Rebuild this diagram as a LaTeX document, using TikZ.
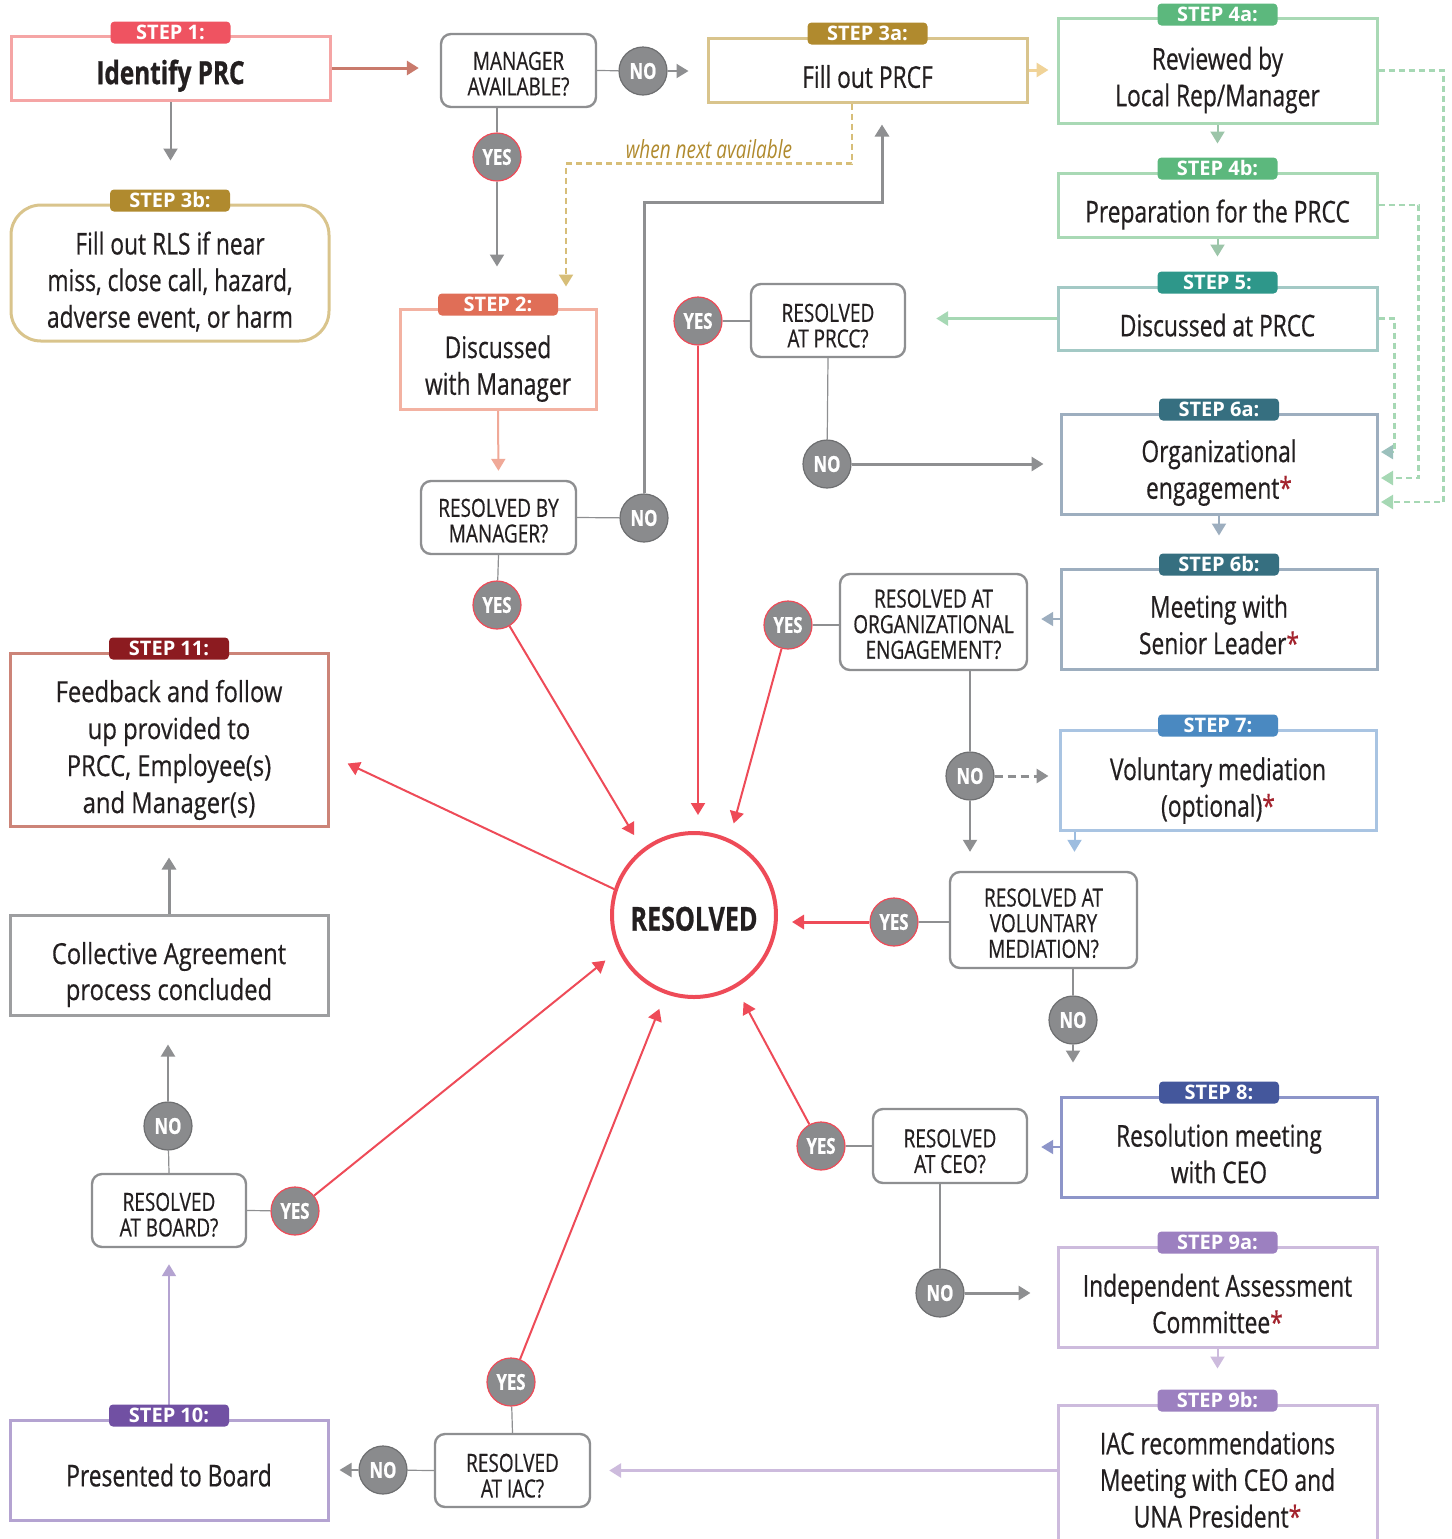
\documentclass[tikz,border=0pt]{standalone}
\usepackage{fontspec}
\setmainfont{Open Sans}[FakeStretch=0.76, UprightFeatures={FakeBold=0.5}, BoldFeatures={FakeBold=0.8}]
\newfontfamily\widefont{Open Sans}[FakeStretch=0.82, UprightFeatures={FakeBold=0.4}]
\newfontfamily\plainfont{Open Sans}
\usetikzlibrary{arrows.meta,calc,backgrounds}
\definecolor{rc}{HTML}{EE4B58}
\definecolor{gc}{HTML}{8E8F91}
\definecolor{cg}{HTML}{8A8B8D}
\definecolor{cb}{HTML}{6E6F71}
\definecolor{tx}{HTML}{231F20}
\definecolor{st}{HTML}{A3232D}
\definecolor{b1}{HTML}{F5A5A5}\definecolor{p1}{HTML}{EF5361}
\definecolor{b3}{HTML}{D9C48C}\definecolor{p3}{HTML}{B08A2E}
\definecolor{b4}{HTML}{A9D9B5}\definecolor{p4}{HTML}{5CB87D}
\definecolor{b5}{HTML}{A3C9C5}\definecolor{p5}{HTML}{2E978A}
\definecolor{b6}{HTML}{9DAEBF}\definecolor{p6}{HTML}{366F80}
\definecolor{b7}{HTML}{A9C4E2}\definecolor{p7}{HTML}{4A89C1}
\definecolor{b8}{HTML}{8D95C9}\definecolor{p8}{HTML}{44579C}
\definecolor{b9}{HTML}{CDBBDD}\definecolor{p9}{HTML}{9C80C0}
\definecolor{b10}{HTML}{B4A3D1}\definecolor{p10}{HTML}{7150A3}
\definecolor{b11}{HTML}{CC8478}\definecolor{p11}{HTML}{8C1B20}
\definecolor{b2}{HTML}{F3B2A2}\definecolor{p2}{HTML}{E06E57}
\definecolor{bca}{HTML}{9D9EA0}
\definecolor{ac1}{HTML}{C97A6C}
\definecolor{yel}{HTML}{F0D398}
\definecolor{grn}{HTML}{9CC5A9}
\definecolor{lgrn}{HTML}{A6D8B4}
\definecolor{tgr}{HTML}{9BC0BC}
\definecolor{tan}{HTML}{D7BE78}
\definecolor{wna}{HTML}{B08A2E}
\definecolor{lblue}{HTML}{9DBDE0}
\definecolor{sal}{HTML}{F0A998}
\newcommand\bxfont{\fontsize{15}{18.3}\selectfont}
\newcommand\qfont{\fontsize{12.5}{12.8}\selectfont}
\newcommand\redast{\textcolor{st}{*}}
\newcommand\tu[1]{\rule{0pt}{#1}}
\begin{document}
\begin{tikzpicture}[x=0.5pt,y=-0.5pt, every node/.style={text=tx},
  tup/.style={execute at begin node={\rule{0pt}{#1}}}, tup/.default=19pt,
  stepbox/.style={draw=#1, line width=1.5pt, fill=white, align=center, inner sep=2pt, font=\bxfont, minimum width=158pt, minimum height=50pt},
  pill/.style={fill=#1, text=white, rounded corners=2pt, minimum width=60pt, minimum height=11pt, inner sep=0pt, font=\plainfont\bfseries\fontsize{10}{10}\selectfont},
  qbox/.style={draw=gc, line width=1.2pt, rounded corners=5pt, fill=white, align=center, font=\qfont, minimum width=77.5pt, minimum height=36.5pt, inner sep=1pt},
  yn/.style={circle, fill=cg, draw=#1, line width=0.6pt, minimum size=24pt, inner sep=0pt, text=white, font=\bfseries\fontsize{11}{11}\selectfont},
  yesc/.style={yn=rc}, noc/.style={yn=cb},
  arr/.style={-{Triangle[width=7pt,length=6pt]}, line width=1pt},
  thk/.style={line width=1.5pt},
  thinl/.style={draw=gc, line width=0.6pt},
  garr/.style={arr, draw=gc},
  redarr/.style={arr, draw=rc, shorten >=8pt},
  gdash/.style={draw=lgrn, line width=1.2pt, dash pattern=on 3pt off 2pt, -{Triangle[width=7pt,length=6pt]}}
]
\useasboundingbox (0,0) rectangle (1452,1539);

% ---------- step boxes ----------
\node[stepbox=b1, minimum width=159.5pt, minimum height=32pt, font=\bfseries\fontsize{16}{18}\selectfont, tup=20pt] (s1) at (170.5,68) {Identify PRC};
\node[pill=p1] (pl1) at ([yshift=1pt]s1.north) {STEP 1:};

\node[stepbox=b3, rounded corners=15pt, minimum width=159pt, minimum height=68pt] (s3b) at (170,273) {\tu{20pt}Fill out RLS if near\\miss, close call, hazard,\\adverse event, or harm};
\node[pill=p3] (pl3b) at ([yshift=1.5pt]s3b.north) {STEP 3b:};

\node[stepbox=b3, minimum width=159.5pt, minimum height=32pt, tup=18pt] (s3a) at (867.5,70) {Fill out PRCF};
\node[pill=p3] (pl3a) at ([yshift=1.5pt]s3a.north) {STEP 3a:};

\node[stepbox=b4, minimum width=159.5pt, minimum height=52.5pt] (s4a) at (1217.5,70.5) {\tu{21pt}Reviewed by\\Local Rep/Manager};
\node[pill=p4] (pl4a) at ([yshift=1pt]s4a.north) {STEP 4a:};

\node[stepbox=b4, minimum width=159.5pt, minimum height=32pt, tup=21pt] (s4b) at (1217.5,205) {Preparation for the PRCC};
\node[pill=p4] (pl4b) at ([yshift=1.5pt]s4b.north) {STEP 4b:};

\node[stepbox=b5, minimum width=159.5pt, minimum height=31.5pt, tup=18pt] (s5) at (1217.5,318.5) {Discussed at PRCC};
\node[pill=p5] (pl5) at ([yshift=1.5pt]s5.north) {STEP 5:};

\node[stepbox=b6] (s6a) at (1219,464) {\tu{20pt}Organizational\\engagement\redast};
\node[pill=p6] (pl6a) at ([yshift=1.5pt]s6a.north) {STEP 6a:};

\node[stepbox=b6] (s6b) at (1219,619) {\tu{17pt}Meeting with\\Senior Leader\redast};
\node[pill=p6] (pl6b) at ([yshift=1.5pt]s6b.north) {STEP 6b:};

\node[stepbox=b7] (s7) at (1218,780) {\tu{22pt}Voluntary mediation\\(optional)\redast};
\node[pill=p7] (pl7) at ([yshift=1.5pt]s7.north) {STEP 7:};

\node[stepbox=b8] (s8) at (1219,1147) {\tu{18pt}Resolution meeting\\with CEO};
\node[pill=p8] (pl8) at ([yshift=1.5pt]s8.north) {STEP 8:};

\node[stepbox=b9, minimum width=159.5pt] (s9a) at (1217.5,1297) {\tu{18pt}Independent Assessment\\Committee\redast};
\node[pill=p9] (pl9a) at ([yshift=1.5pt]s9a.north) {STEP 9a:};

\node[stepbox=b9, minimum width=159.5pt, minimum height=70pt] (s9b) at (1217.5,1475) {\tu{16pt}IAC recommendations\\Meeting with CEO and\\UNA President\redast};
\node[pill=p9] (pl9b) at ([yshift=1.5pt]s9b.north) {STEP 9b:};

\node[stepbox=b2, minimum width=98pt] (s2) at (498,359) {\tu{21pt}Discussed\\with Manager};
\node[pill=p2] (pl2) at ([yshift=1.5pt]s2.north) {STEP 2:};

\node[stepbox=b11, minimum width=159pt, minimum height=86.5pt, font=\widefont\fontsize{14.5}{18.5}\selectfont] (s11) at (169,739.5) {\tu{21.5pt}Feedback and follow\\up provided to\\PRCC, Employee(s)\\and Manager(s)};
\node[pill=p11] (pl11) at ([yshift=1.5pt]s11.north) {STEP 11:};

\node[stepbox=bca, minimum width=159pt, font=\widefont\fontsize{14.5}{18}\selectfont] (sCA) at (169,965) {\tu{20.5pt}Collective Agreement\\process concluded};

\node[stepbox=b10, minimum width=159pt, tup=16.5pt] (s10) at (169,1470) {Presented to Board};
\node[pill=p10] (pl10) at ([yshift=1.5pt]s10.north) {STEP 10:};

% ---------- questions ----------
\node[qbox] (qMA) at (518.5,70.5) {\tu{12.3pt}MANAGER\\AVAILABLE?};
\node[qbox, minimum width=77pt] (qPRCC) at (828,320.5) {\tu{14.3pt}RESOLVED\\AT PRCC?};
\node[qbox] (qRM) at (498.5,517.5) {\tu{12.3pt}RESOLVED BY\\MANAGER?};
\node[qbox, minimum width=93.5pt, minimum height=48pt] (qOE) at (933.5,622) {\tu{11.3pt}RESOLVED AT\\ORGANIZATIONAL\\ENGAGEMENT?};
\node[qbox, minimum width=93.5pt, minimum height=48pt] (qVM) at (1043.5,920) {\tu{12.3pt}RESOLVED AT\\VOLUNTARY\\MEDIATION?};
\node[qbox, minimum width=77pt, minimum height=37pt] (qCEO) at (950,1146) {\tu{14.3pt}RESOLVED\\AT CEO?};
\node[qbox] (qIAC) at (512.5,1470.5) {\tu{14.3pt}RESOLVED\\AT IAC?};
\node[qbox, minimum width=77pt] (qB) at (169,1210.5) {\tu{13.3pt}RESOLVED\\AT BOARD?};

% ---------- resolved ----------
\node[circle, draw=rc, line width=2pt, fill=white, minimum size=82pt, inner sep=0pt, font=\bfseries\fontsize{16.5}{18}\selectfont, tup=15.8pt] (res) at (694,915) {RESOLVED};

% ---------- yes / no ----------
\node[noc] (no1) at (643,71) {NO};
\node[yesc] (yes1) at (497,157) {YES};
\node[yesc] (yes2) at (698,321) {YES};
\node[noc] (no2) at (827,464) {NO};
\node[noc] (no3) at (644,518) {NO};
\node[yesc] (yes3) at (497,605) {YES};
\node[yesc] (yes4) at (788,625) {YES};
\node[noc] (no4) at (970,776) {NO};
\node[yesc] (yes5) at (894,922) {YES};
\node[noc] (no5) at (1073,1020) {NO};
\node[yesc] (yes6) at (821,1146) {YES};
\node[noc] (no6) at (940,1293) {NO};
\node[yesc] (yes7) at (511,1382) {YES};
\node[noc] (no7) at (383,1470) {NO};
\node[yesc] (yes8) at (295,1211) {YES};
\node[noc] (no8) at (168,1126) {NO};

\node[font=\itshape\fontsize{12.5}{13}\selectfont, text=wna, inner sep=0pt] (wn) at (709,149) {when next available};

\coordinate (e1) at (1381,502);
\coordinate (e2) at (1381,478);
\coordinate (e3) at (1381,452);
\coordinate (c1) at (882,202);

\begin{scope}[on background layer]
\draw[arr, thk, draw=ac1, shorten >=10.5pt] (s1.east) -- (s1.east -| qMA.west);
\draw[garr, shorten >=21.5pt] (s1.south) -- (s1.south |- s3b.north);
\draw[thinl] (qMA.east) -- (no1);
\draw[garr, shorten >=9pt] (no1) -- (no1 -| s3a.west);
\draw[arr, thk, draw=yel, shorten >=4pt] (s3a.east) -- (s3a.east -| s4a.west);
\draw[arr, draw=grn, shorten >=14pt] (s4a.south) -- (s4b.north);
\draw[arr, draw=grn, shorten >=14.5pt] (s4b.south) -- (s5.north);
\draw[arr, thk, draw=lgrn, shorten >=15pt] (s5.west) -- (s5.west -| qPRCC.east);
\draw[thinl] (yes2 -| qPRCC.west) -- (yes2);
\draw[redarr] (yes2) -- (yes2 |- res.north);
\draw[thinl] (qPRCC.south) -- (no2);
\draw[garr, thk, shorten >=8pt] (no2) -- (no2 -| s6a.west);
\draw[gdash] (s4a.east) -- ++(65,0) |- (e1);
\draw[gdash] (s4b.east) -- ++(40,0) |- (e2);
\draw[gdash, -{Triangle[width=7pt,length=6pt,color=tgr]}] (s5.east) -- ++(16,0) |- (e3);
\draw[arr, draw=b6, shorten >=16pt] (s6a.south) -- (s6b.north);
\draw[arr, draw=b6, shorten >=6.5pt] (s6b.west) -- (s6b.west -| qOE.east);
\draw[thinl] (yes4 -| qOE.west) -- (yes4);
\draw[redarr] (yes4) -- (res.65);
\draw[thinl] (no4 |- qOE.south) -- (no4);
\draw[garr, thk, dash pattern=on 4pt off 2.5pt, shorten >=5pt] (no4) -- (no4 -| s7.west);
\draw[garr, shorten >=9.5pt] (no4) -- (no4 |- qVM.north);
\draw[arr, draw=lblue, shorten >=9.5pt] ([xshift=8pt]s7.south west) -- ([xshift=8pt]s7.south west |- qVM.north);
\draw[thinl] (yes5 -| qVM.west) -- (yes5);
\draw[redarr, thk, shorten >=7pt] (yes5) -- (yes5 -| res.east);
\draw[thinl] (no5 |- qVM.south) -- (no5);
\draw[garr, shorten >=16.5pt] (no5) -- (no5 |- s8.north);
\draw[arr, draw=b8, shorten >=6.5pt] (s8.west) -- (s8.west -| qCEO.east);
\draw[thinl] (qCEO.west) -- (yes6);
\draw[redarr] (yes6) -- (res.-60);
\draw[thinl] (no6 |- qCEO.south) -- (no6);
\draw[garr, thk, shorten >=13pt] (no6) -- (no6 -| s9a.west);
\draw[arr, draw=b9, shorten >=17.5pt] (s9a.south) -- (s9b.north);
\draw[arr, thk, draw=b9, shorten >=9pt] (qIAC.east -| s9b.west) -- (qIAC.east);
\draw[thinl] (qIAC.north) -- (yes7);
\draw[redarr] (yes7) -- (res.-110);
\draw[thinl] (qIAC.west) -- (no7);
\draw[garr, shorten >=5pt] (no7) -- (no7 -| s10.east);
\draw[arr, draw=b10, shorten >=8pt] (s10.north) -- (qB.south);
\draw[thinl] (qB.east) -- (yes8);
\draw[redarr] (yes8) -- (res.-155);
\draw[thinl] (qB.north) -- (no8);
\draw[garr, shorten >=14pt] (no8) -- (no8 |- sCA.south);
\draw[garr, thk, shorten >=15pt] (sCA.north) -- (s11.south);
\draw[thinl] (yes1 |- qMA.south) -- (yes1);
\draw[garr, shorten >=20.5pt] (yes1) -- (yes1 |- s2.north);
\draw[draw=tan, line width=1.2pt, dash pattern=on 3pt off 2pt, -{Triangle[width=7pt,length=6pt]}, shorten >=10.5pt] ([xshift=-7.75pt]s3a.south) -- ++(0,60) -| ([xshift=34pt]s2.north);
\draw[arr, draw=sal, shorten >=4.5pt] (s2.south) -- (qRM.north);
\draw[thinl] (qRM.east) -- (no3);
\draw[garr, thk, shorten >=10.5pt] (no3) |- (c1) -- (c1 |- s3a.south);
\draw[thinl] (qRM.south) -- (yes3);
\draw[redarr] (yes3) -- (res.128);
\draw[redarr, shorten >=10pt] (res.162) -- ([yshift=-7.75pt]s11.east);
\end{scope}
\end{tikzpicture}
\end{document}
